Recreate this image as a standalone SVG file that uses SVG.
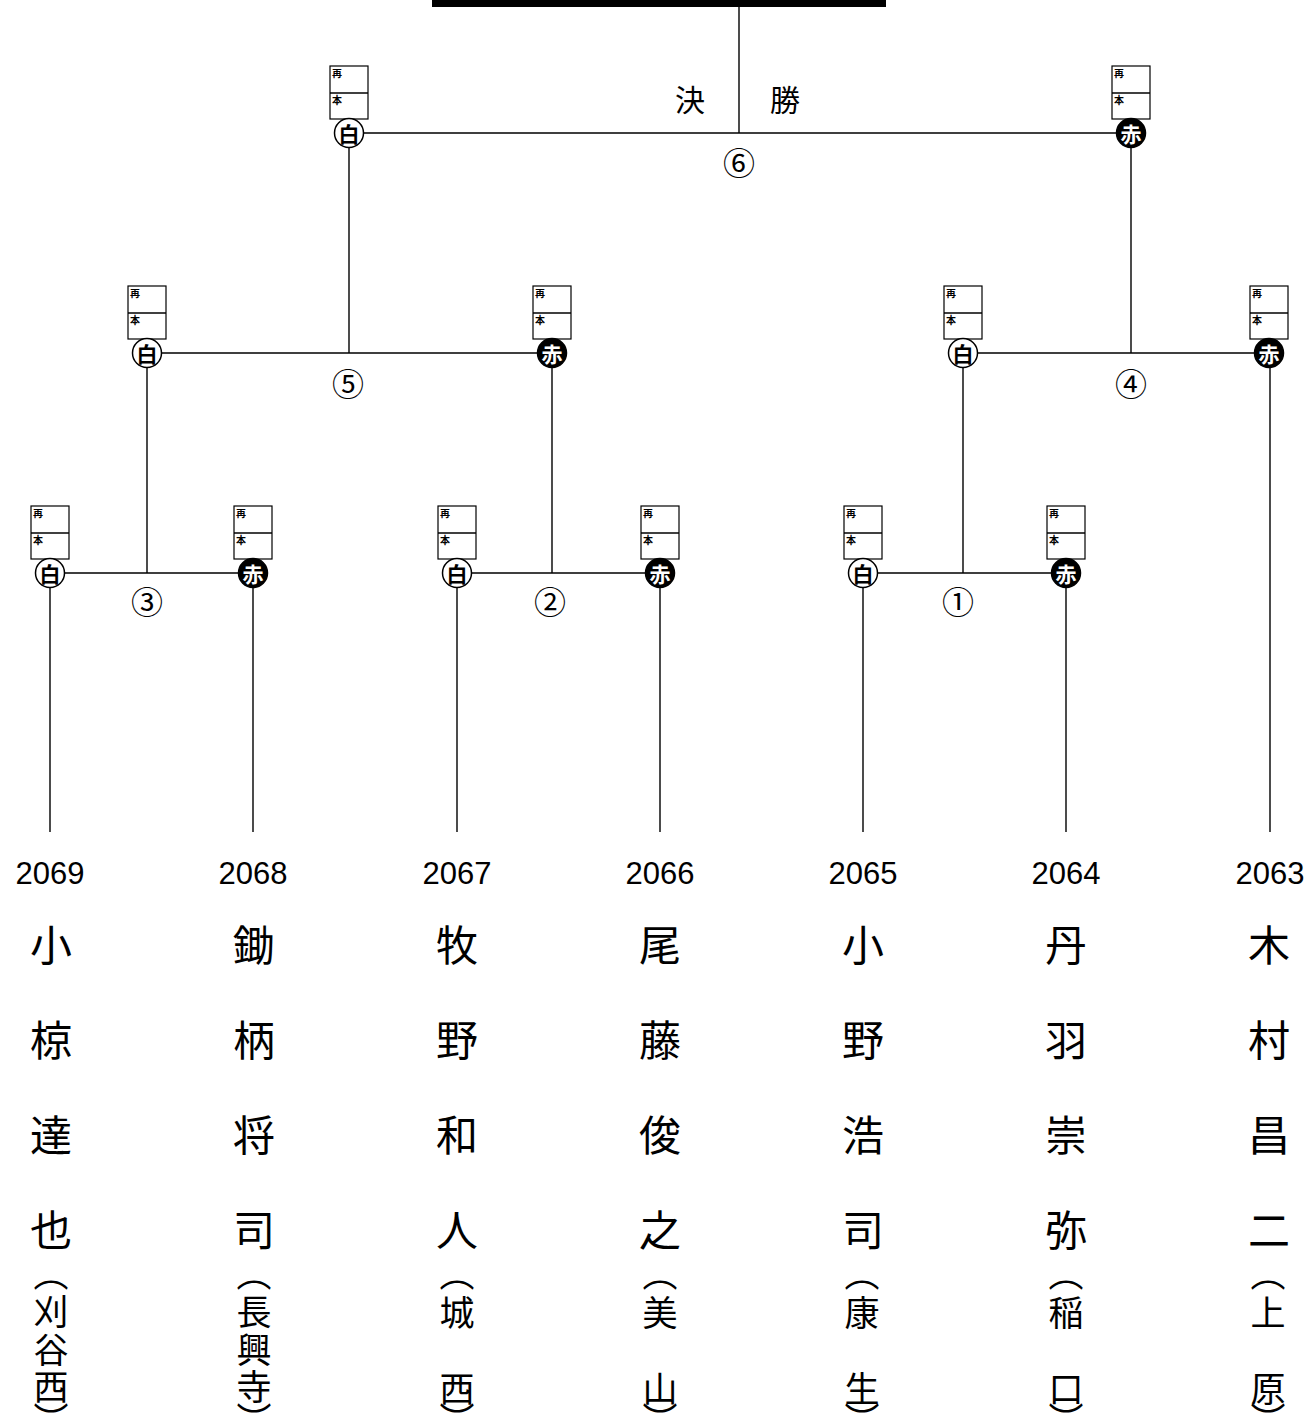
<svg xmlns="http://www.w3.org/2000/svg" width="1311" height="1418" viewBox="0 0 1311 1418">
<style>
.ln{stroke:#000;stroke-width:1.4;fill:none}
.box{fill:#fff;stroke:#000;stroke-width:1.2}
.bt{font-family:"Noto Sans CJK JP",sans-serif;font-size:10px;font-weight:bold;fill:#000}
.cw{fill:#fff;stroke:#000;stroke-width:1.5}
.cr{fill:#000;stroke:#000;stroke-width:1.5}
.tw{font-family:"Noto Sans CJK JP",sans-serif;font-size:21px;font-weight:bold;fill:#000;text-anchor:middle;dominant-baseline:central}
.tr{font-family:"Noto Sans CJK JP",sans-serif;font-size:21px;font-weight:bold;fill:#fff;text-anchor:middle;dominant-baseline:central}
.rn{font-family:"Noto Sans CJK JP",sans-serif;font-size:32px;fill:#000;text-anchor:middle;dominant-baseline:central}
.num{font-family:"Liberation Sans",Arial,sans-serif;font-size:31px;fill:#000;text-anchor:middle}
.nm{font-family:"Noto Sans CJK JP",sans-serif;font-size:42px;fill:#000;text-anchor:middle;dominant-baseline:central}
.sc{font-family:"Noto Sans CJK JP",sans-serif;font-size:35px;fill:#000;text-anchor:middle;dominant-baseline:central}
.ttl{font-family:"Noto Sans CJK JP",sans-serif;font-size:30px;fill:#000;text-anchor:middle;dominant-baseline:central}
</style>
<defs>
<g id="sbox">
<rect class="box" x="-19" y="-67" width="38" height="53"/>
<line class="ln" x1="-19" y1="-40" x2="19" y2="-40"/>
<text class="bt" x="-17" y="-56">再</text>
<text class="bt" x="-17" y="-29">本</text>
</g>
<g id="cwh"><circle class="cw" cx="0" cy="0" r="14.5"/><text class="tw" x="0" y="0">白</text></g>
<g id="crd"><circle class="cr" cx="0" cy="0" r="14.5"/><text class="tr" x="0" y="0">赤</text></g>
</defs>
<rect id="titlebar" x="432" y="0" width="454" height="7" fill="#000"/>
<g id="connectors">
<path class="ln" d="M739 7V133M349 133H1131"/>
<path class="ln" d="M349 133V353M147 353H552M1131 133V353M963 353H1270"/>
<path class="ln" d="M147 353V573M50 573H253M552 353V573M457 573H660M963 353V573M863 573H1066"/>
<path class="ln" d="M50 573V832M253 573V832M457 573V832M660 573V832M863 573V832M1066 573V832M1270 353V832"/>
</g>
<g id="final-label"><text class="ttl" x="690" y="98">決</text><text class="ttl" x="785" y="98">勝</text></g>
<g id="round-labels">
<text class="rn" x="739" y="161">⑥</text>
<text class="rn" x="348" y="382">⑤</text>
<text class="rn" x="1131" y="382">④</text>
<text class="rn" x="147" y="600">③</text>
<text class="rn" x="550" y="600">②</text>
<text class="rn" x="958" y="600">①</text>
</g>
<g id="m6-white"><use href="#sbox" x="349" y="133"/><use href="#cwh" x="349" y="133"/></g>
<g id="m6-red"><use href="#sbox" x="1131" y="133"/><use href="#crd" x="1131" y="133"/></g>
<g id="m5-white"><use href="#sbox" x="147" y="353"/><use href="#cwh" x="147" y="353"/></g>
<g id="m5-red"><use href="#sbox" x="552" y="353"/><use href="#crd" x="552" y="353"/></g>
<g id="m4-white"><use href="#sbox" x="963" y="353"/><use href="#cwh" x="963" y="353"/></g>
<g id="m4-red"><use href="#sbox" x="1269" y="353"/><use href="#crd" x="1269" y="353"/></g>
<g id="m3-white"><use href="#sbox" x="50" y="573"/><use href="#cwh" x="50" y="573"/></g>
<g id="m3-red"><use href="#sbox" x="253" y="573"/><use href="#crd" x="253" y="573"/></g>
<g id="m2-white"><use href="#sbox" x="457" y="573"/><use href="#cwh" x="457" y="573"/></g>
<g id="m2-red"><use href="#sbox" x="660" y="573"/><use href="#crd" x="660" y="573"/></g>
<g id="m1-white"><use href="#sbox" x="863" y="573"/><use href="#cwh" x="863" y="573"/></g>
<g id="m1-red"><use href="#sbox" x="1066" y="573"/><use href="#crd" x="1066" y="573"/></g>
<g id="p2069">
<text class="num" x="50" y="884">2069</text>
<text class="nm" x="51" y="942">小</text><text class="nm" x="51" y="1037">椋</text><text class="nm" x="51" y="1132">達</text><text class="nm" x="51" y="1227">也</text>
<text class="sc" x="51" y="1271">︵</text><text class="sc" x="51" y="1309">刈</text><text class="sc" x="51" y="1347">谷</text><text class="sc" x="51" y="1384">西</text><text class="sc" x="51" y="1417">︶</text>
</g>
<g id="p2068">
<text class="num" x="253" y="884">2068</text>
<text class="nm" x="254" y="942">鋤</text><text class="nm" x="254" y="1037">柄</text><text class="nm" x="254" y="1132">将</text><text class="nm" x="254" y="1227">司</text>
<text class="sc" x="254" y="1271">︵</text><text class="sc" x="254" y="1309">長</text><text class="sc" x="254" y="1347">興</text><text class="sc" x="254" y="1384">寺</text><text class="sc" x="254" y="1417">︶</text>
</g>
<g id="p2067">
<text class="num" x="457" y="884">2067</text>
<text class="nm" x="457" y="942">牧</text><text class="nm" x="457" y="1037">野</text><text class="nm" x="457" y="1132">和</text><text class="nm" x="457" y="1227">人</text>
<text class="sc" x="457" y="1271">︵</text><text class="sc" x="457" y="1310">城</text><text class="sc" x="457" y="1386">西</text><text class="sc" x="457" y="1417">︶</text>
</g>
<g id="p2066">
<text class="num" x="660" y="884">2066</text>
<text class="nm" x="660" y="942">尾</text><text class="nm" x="660" y="1037">藤</text><text class="nm" x="660" y="1132">俊</text><text class="nm" x="660" y="1227">之</text>
<text class="sc" x="660" y="1271">︵</text><text class="sc" x="660" y="1310">美</text><text class="sc" x="660" y="1386">山</text><text class="sc" x="660" y="1417">︶</text>
</g>
<g id="p2065">
<text class="num" x="863" y="884">2065</text>
<text class="nm" x="863" y="942">小</text><text class="nm" x="863" y="1037">野</text><text class="nm" x="863" y="1132">浩</text><text class="nm" x="863" y="1227">司</text>
<text class="sc" x="862" y="1271">︵</text><text class="sc" x="862" y="1310">康</text><text class="sc" x="862" y="1386">生</text><text class="sc" x="862" y="1417">︶</text>
</g>
<g id="p2064">
<text class="num" x="1066" y="884">2064</text>
<text class="nm" x="1066" y="942">丹</text><text class="nm" x="1066" y="1037">羽</text><text class="nm" x="1066" y="1132">崇</text><text class="nm" x="1066" y="1227">弥</text>
<text class="sc" x="1066" y="1271">︵</text><text class="sc" x="1066" y="1310">稲</text><text class="sc" x="1066" y="1386">口</text><text class="sc" x="1066" y="1417">︶</text>
</g>
<g id="p2063">
<text class="num" x="1270" y="884">2063</text>
<text class="nm" x="1269" y="942">木</text><text class="nm" x="1269" y="1037">村</text><text class="nm" x="1269" y="1132">昌</text><text class="nm" x="1269" y="1227">二</text>
<text class="sc" x="1268" y="1271">︵</text><text class="sc" x="1268" y="1310">上</text><text class="sc" x="1268" y="1386">原</text><text class="sc" x="1268" y="1417">︶</text>
</g>
</svg>
